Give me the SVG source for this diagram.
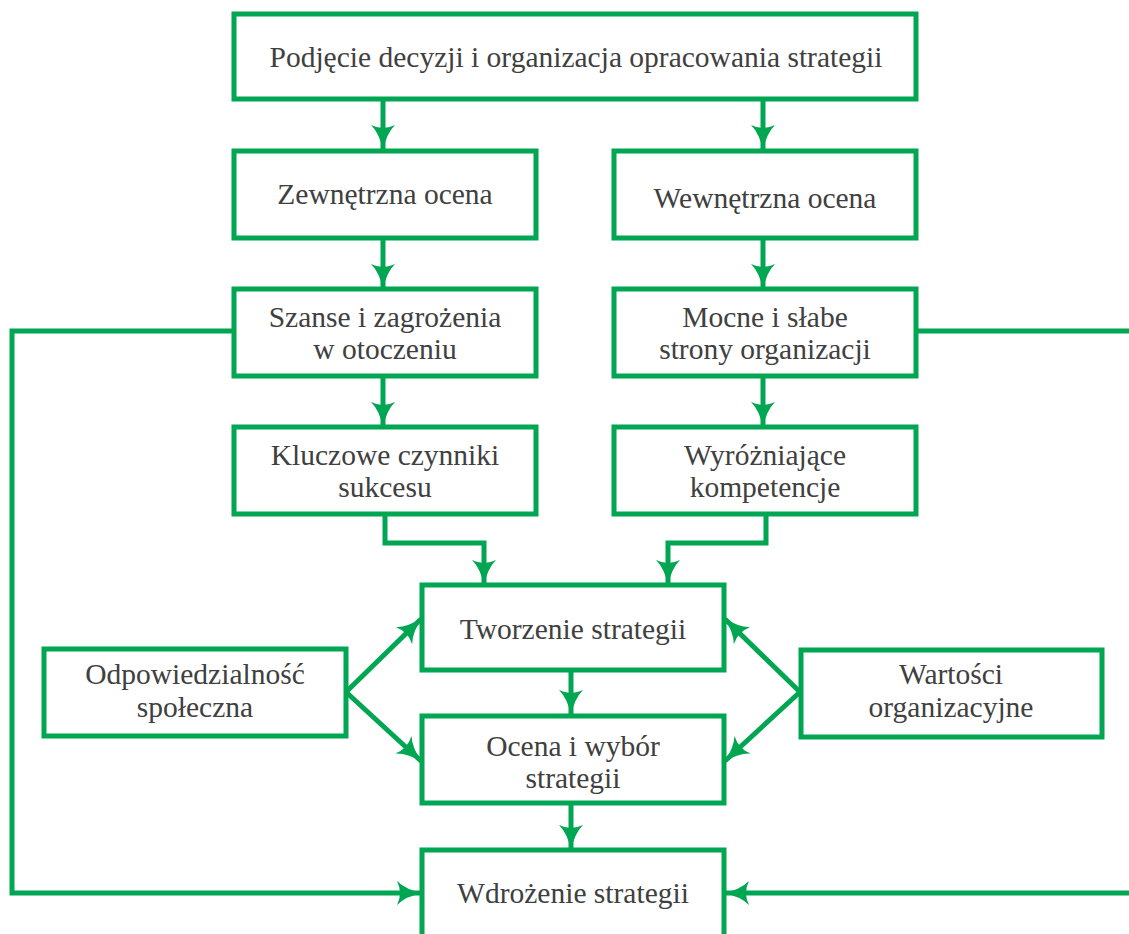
<svg xmlns="http://www.w3.org/2000/svg" width="1129" height="934" viewBox="0 0 1129 934">
  <style>
    .box { fill: #ffffff; stroke: #00a651; stroke-width: 5; }
    .line { fill: none; stroke: #00a651; stroke-width: 5; }
    .label { font-family: "Liberation Serif", "DejaVu Serif", serif; font-size: 29.5px; fill: #404040; text-anchor: middle; }
  </style>
  <defs>
    <marker id="arrow" viewBox="0 0 26 24" refX="24" refY="12" markerWidth="26" markerHeight="24" markerUnits="userSpaceOnUse" orient="auto">
      <path d="M0,0 Q9,9 26,12 Q9,15 0,24 Q6,12 0,0 Z" fill="#00a651"/>
    </marker>
  </defs>
  <rect width="1129" height="934" fill="#ffffff"/>

  <g id="connectors">
    <path class="line" d="M383,100 V149" marker-end="url(#arrow)"/>
    <path class="line" d="M763,100 V149" marker-end="url(#arrow)"/>
    <path class="line" d="M383,238 V288" marker-end="url(#arrow)"/>
    <path class="line" d="M763,238 V288" marker-end="url(#arrow)"/>
    <path class="line" d="M383,377 V426" marker-end="url(#arrow)"/>
    <path class="line" d="M763,377 V426" marker-end="url(#arrow)"/>
    <path class="line" d="M385,515 V543 H484 V584" marker-end="url(#arrow)"/>
    <path class="line" d="M766,515 V543 H668 V584" marker-end="url(#arrow)"/>
    <path class="line" d="M571,670 V714" marker-end="url(#arrow)"/>
    <path class="line" d="M571,803 V849" marker-end="url(#arrow)"/>
    <path class="line" d="M346,692 L421,619" marker-end="url(#arrow)"/>
    <path class="line" d="M346,692 L421,761" marker-end="url(#arrow)"/>
    <path class="line" d="M800,692 L725,619" marker-end="url(#arrow)"/>
    <path class="line" d="M800,692 L725,761" marker-end="url(#arrow)"/>
    <path class="line" d="M234,331 H12 V893 H421" marker-end="url(#arrow)"/>
    <path class="line" d="M916,331 H1135"/>
    <path class="line" d="M1135,893 H725" marker-end="url(#arrow)"/>
  </g>

  <g id="node-decyzja">
    <rect class="box" x="234" y="14" width="682" height="85"/>
    <text class="label" x="576" y="67">Podjęcie decyzji i organizacja opracowania strategii</text>
  </g>
  <g id="node-zewnetrzna">
    <rect class="box" x="234" y="151" width="302" height="87"/>
    <text class="label" x="385" y="204">Zewnętrzna ocena</text>
  </g>
  <g id="node-wewnetrzna">
    <rect class="box" x="614" y="151" width="302" height="87"/>
    <text class="label" x="765" y="208">Wewnętrzna ocena</text>
  </g>
  <g id="node-szanse">
    <rect class="box" x="234" y="289" width="302" height="87"/>
    <text class="label" x="385" y="327">Szanse i zagrożenia</text>
    <text class="label" x="385" y="359">w otoczeniu</text>
  </g>
  <g id="node-mocne">
    <rect class="box" x="614" y="289" width="302" height="87"/>
    <text class="label" x="765" y="327">Mocne i słabe</text>
    <text class="label" x="765" y="359">strony organizacji</text>
  </g>
  <g id="node-kluczowe">
    <rect class="box" x="234" y="427" width="302" height="87"/>
    <text class="label" x="385" y="465">Kluczowe czynniki</text>
    <text class="label" x="385" y="497">sukcesu</text>
  </g>
  <g id="node-wyrozniajace">
    <rect class="box" x="614" y="427" width="302" height="87"/>
    <text class="label" x="765" y="465">Wyróżniające</text>
    <text class="label" x="765" y="497">kompetencje</text>
  </g>
  <g id="node-tworzenie">
    <rect class="box" x="422" y="585" width="302" height="85"/>
    <text class="label" x="573" y="639">Tworzenie strategii</text>
  </g>
  <g id="node-ocena">
    <rect class="box" x="422" y="716" width="302" height="87"/>
    <text class="label" x="573" y="756">Ocena i wybór</text>
    <text class="label" x="573" y="788">strategii</text>
  </g>
  <g id="node-wdrozenie">
    <rect class="box" x="422" y="850" width="302" height="100"/>
    <text class="label" x="573" y="903">Wdrożenie strategii</text>
  </g>
  <g id="node-odpowiedzialnosc">
    <rect class="box" x="44" y="649" width="302" height="87"/>
    <text class="label" x="195" y="684">Odpowiedzialność</text>
    <text class="label" x="195" y="717">społeczna</text>
  </g>
  <g id="node-wartosci">
    <rect class="box" x="801" y="650" width="301" height="87"/>
    <text class="label" x="951" y="684">Wartości</text>
    <text class="label" x="951" y="717">organizacyjne</text>
  </g>
</svg>
